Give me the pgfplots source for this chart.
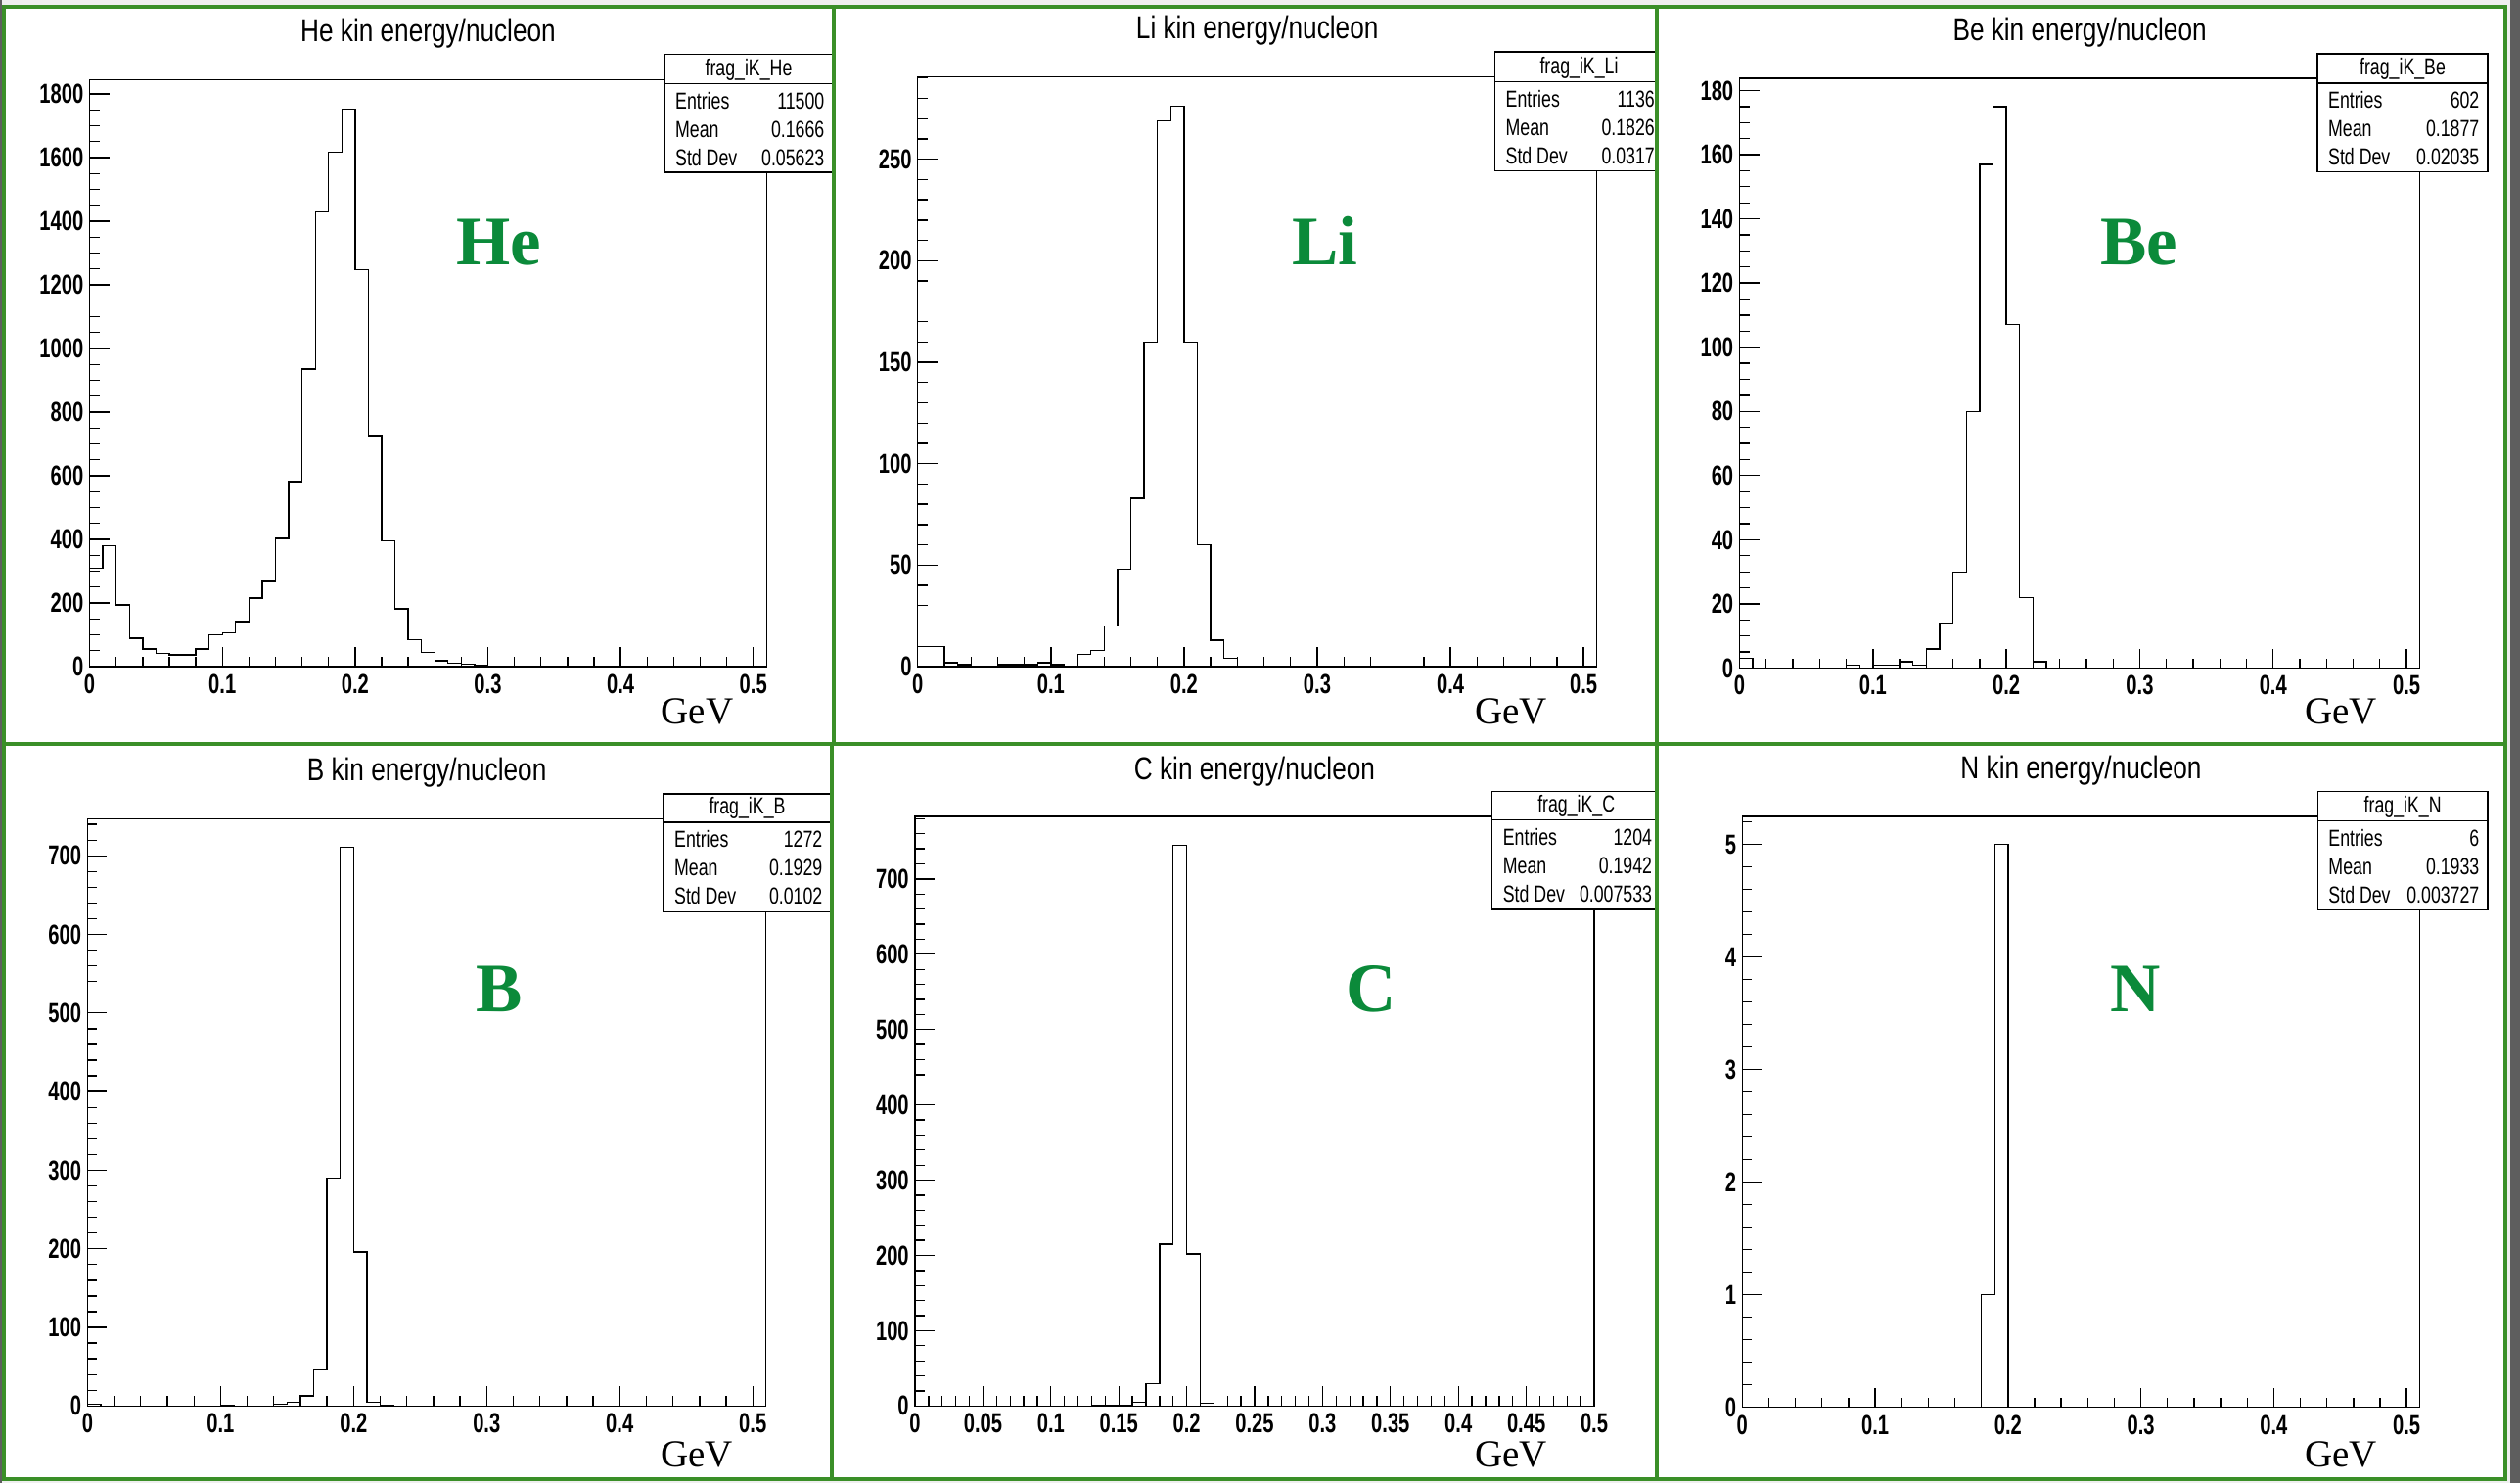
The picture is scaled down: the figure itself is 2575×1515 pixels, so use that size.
\documentclass[border=0pt]{standalone}
\usepackage{pgfplots}
\pgfplotsset{compat=1.18}
\usepackage{fontspec}
\newfontfamily\tickfont[FakeStretch=0.72]{Liberation Sans Bold}
\newfontfamily\titlefont[FakeStretch=0.81]{Liberation Sans}
\newfontfamily\statfont[FakeStretch=0.75]{Liberation Sans}
\newfontfamily\unitfont{Liberation Serif}
\newfontfamily\elemfont{Liberation Serif Bold}
\definecolor{frameGreen}{HTML}{3A8F28}
\definecolor{elemGreen}{HTML}{0B8A3A}
\definecolor{pageGrey}{HTML}{EFEFEF}
\definecolor{edgeGrey}{HTML}{5E5E5E}

\pgfplotsset{
  roothist/.style={
    scale only axis, anchor=south west,
    xmin=0, ymin=0,
    axis line style={line width=0.4bp},
    tick align=inside, xtick pos=bottom, ytick pos=left,
    major tick length=6bp, minor tick length=3bp,
    every tick/.append style={black, line width=0.4bp},
    scaled ticks=false,
    ticklabel style={font=\tickfont\fontsize{8.4bp}{9bp}\selectfont, inner sep=0pt},
    xticklabel style={yshift=-2.1bp, /pgf/number format/fixed,
      /pgf/number format/precision=2, /pgf/number format/assume math mode=true},
    yticklabel style={xshift=-1.7bp, /pgf/number format/fixed,
      /pgf/number format/1000 sep={}, /pgf/number format/assume math mode=true},
  },
  hist/.style={const plot mark left, black, line width=0.4bp, mark=none},
}

\tikzset{
  ttl/.style={font=\titlefont\fontsize{9.7bp}{11bp}\selectfont, anchor=base, inner sep=0pt},
  stat/.style={font=\statfont\fontsize{7.1bp}{8bp}\selectfont, inner sep=0pt},
  unit/.style={font=\unitfont\fontsize{11.7bp}{13bp}\selectfont, anchor=base west, inner sep=0pt},
  elem/.style={font=\elemfont\fontsize{21.3bp}{24bp}\selectfont, text=elemGreen, anchor=base, inner sep=0pt},
}

% stats box: left, right, top, header line, bottom, name, entries, mean, std dev
\newcommand\statbox[9]{%
  \draw[line width=0.4bp, fill=white] (#1,#3) rectangle (#2,#5);
  \draw[line width=0.4bp] (#1,#4) -- (#2,#4);
  \node[stat, anchor=base] at ({(#1+#2)/2},{#4-8.2}) {#6};
  \node[stat, anchor=base west] at ({#1+10.5},{#4+25.7}) {Entries};
  \node[stat, anchor=base east] at ({#2-8},{#4+25.7}) {#7};
  \node[stat, anchor=base west] at ({#1+10.5},{#4+54.8}) {Mean};
  \node[stat, anchor=base east] at ({#2-8},{#4+54.8}) {#8};
  \node[stat, anchor=base west] at ({#1+10.5},{#4+83.9}) {Std Dev};
  \node[stat, anchor=base east] at ({#2-8},{#4+83.9}) {#9};
}

\begin{document}
\begin{tikzpicture}
\begin{scope}[x=0.3bp, y=-0.3bp]
  \path[use as bounding box] (0,0) rectangle (2575,1515);
  \fill[pageGrey] (0,0) rectangle (2575,1515);
  \fill[white] (4,7) rectangle (2560,1511);
  \fill[edgeGrey] (0,0) rectangle (2,1515);
  \fill[edgeGrey] (2565,0) rectangle (2575,1515);
  % lower-left corners of the six frames
  \coordinate (A1) at (91.6,681);
  \coordinate (A2) at (937.8,681);
  \coordinate (A3) at (1777.5,682.5);
  \coordinate (A4) at (89.4,1436.3);
  \coordinate (A5) at (935,1436.3);
  \coordinate (A6) at (1780.3,1437.8);
\end{scope}

% He
\begin{axis}[roothist, at={(A1)}, width=207.51bp, height=179.88bp,
  xmax=0.51, ymax=1845,
  xtick={0,0.1,0.2,0.3,0.4,0.5}, minor xtick={0,0.02,...,0.5},
  ytick={0,200,...,1800}, minor ytick={0,50,...,1800}]
\addplot[hist] coordinates {
  (0,0) (0,310) (0.01,380) (0.02,194) (0.03,89) (0.04,55) (0.05,42)
  (0.06,37) (0.07,37) (0.08,55) (0.09,101) (0.10,107) (0.11,142)
  (0.12,215) (0.13,268) (0.14,403) (0.15,582) (0.16,935) (0.17,1429)
  (0.18,1617) (0.19,1752) (0.20,1248) (0.21,726) (0.22,395) (0.23,182)
  (0.24,85) (0.25,45) (0.26,19) (0.27,10) (0.28,7) (0.29,3) (0.30,2)
  (0.31,2) (0.32,1) (0.33,0) (0.36,2) (0.37,0)};
\end{axis}

% Li
\begin{axis}[roothist, at={(A2)}, width=208.17bp, height=180.75bp,
  xmax=0.51, ymax=290.6,
  xtick={0,0.1,0.2,0.3,0.4,0.5}, minor xtick={0,0.02,...,0.5},
  ytick={0,50,...,250}, minor ytick={0,10,...,290}]
\addplot[hist] coordinates {
  (0,0) (0,10) (0.01,10) (0.02,2) (0.03,1) (0.04,0) (0.06,1) (0.07,1)
  (0.08,1) (0.09,2) (0.10,1) (0.11,0) (0.12,6) (0.13,8) (0.14,20)
  (0.15,48) (0.16,83) (0.17,160) (0.18,269) (0.19,276) (0.20,160)
  (0.21,60) (0.22,13) (0.23,4) (0.24,0)};
\end{axis}

% Be
\begin{axis}[roothist, at={(A3)}, width=208.56bp, height=180.75bp,
  xmax=0.51, ymax=183.8,
  xtick={0,0.1,0.2,0.3,0.4,0.5}, minor xtick={0,0.02,...,0.5},
  ytick={0,20,...,180}, minor ytick={0,5,...,180}]
\addplot[hist] coordinates {
  (0,0) (0,3) (0.01,0) (0.08,1) (0.09,0) (0.10,1) (0.11,1) (0.12,2)
  (0.13,1) (0.14,6) (0.15,14) (0.16,30) (0.17,80) (0.18,157) (0.19,175)
  (0.20,107) (0.21,22) (0.22,2) (0.23,0)};
\end{axis}

% B
\begin{axis}[roothist, at={(A4)}, width=208.02bp, height=179.85bp,
  xmax=0.51, ymax=746.6,
  xtick={0,0.1,0.2,0.3,0.4,0.5}, minor xtick={0,0.02,...,0.5},
  ytick={0,100,...,700}, minor ytick={0,20,...,740}]
\addplot[hist] coordinates {
  (0,0) (0,2) (0.01,0) (0.10,1) (0.11,0) (0.14,2) (0.15,5) (0.16,13)
  (0.17,46) (0.18,290) (0.19,711) (0.20,196) (0.21,5) (0.22,1) (0.23,0)};
\end{axis}

% C
\begin{axis}[roothist, at={(A5)}, width=208.2bp, height=180.72bp,
  xmax=0.5, ymax=783.2,
  xtick={0,0.05,...,0.5}, minor xtick={0,0.01,...,0.5},
  ytick={0,100,...,700}, minor ytick={0,20,...,780}]
\addplot[hist] coordinates {
  (0.13,0) (0.13,1) (0.14,1) (0.15,1) (0.16,5) (0.17,30) (0.18,215)
  (0.19,745) (0.20,202) (0.21,4) (0.22,0)};
\end{axis}

% N
\begin{axis}[roothist, at={(A6)}, width=207.72bp, height=181.17bp,
  xmax=0.51, ymax=5.25,
  xtick={0,0.1,0.2,0.3,0.4,0.5}, minor xtick={0,0.02,...,0.5},
  ytick={0,1,...,5}, minor ytick={0,0.2,...,5.2}]
\addplot[hist] coordinates {(0.18,0) (0.18,1) (0.19,5) (0.20,0)};
\end{axis}

\begin{scope}[x=0.3bp, y=-0.3bp]
  \begin{scope}
    \clip (4,7) rectangle (851,760);
    \node[ttl] at (437.5,42.7) {He kin energy/nucleon};
    \statbox{679}{851}{55.7}{85.8}{176}{frag\_iK\_He}{11500}{0.1666}{0.05623}
    \node[elem] at (510,270) {He};
    \node[unit] at (675,739) {GeV};
  \end{scope}
  \begin{scope}
    \clip (851,7) rectangle (1693,760);
    \node[ttl] at (1284.7,39.7) {Li kin energy/nucleon};
    \statbox{1527.5}{1699.5}{53}{83.4}{174.5}{frag\_iK\_Li}{1136}{0.1826}{0.0317}
    \node[elem] at (1353.6,270) {Li};
    \node[unit] at (1506.6,739) {GeV};
  \end{scope}
  \begin{scope}
    \clip (1693,7) rectangle (2560,760);
    \node[ttl] at (2125.1,41.7) {Be kin energy/nucleon};
    \statbox{2368}{2542}{55}{85}{175.5}{frag\_iK\_Be}{602}{0.1877}{0.02035}
    \node[elem] at (2185.5,270) {Be};
    \node[unit] at (2354.8,739) {GeV};
  \end{scope}
  \begin{scope}
    \clip (4,760) rectangle (851,1511);
    \node[ttl] at (436.1,797.8) {B kin energy/nucleon};
    \statbox{678}{849}{811}{840}{931.5}{frag\_iK\_B}{1272}{0.1929}{0.0102}
    \node[elem] at (510,1033) {B};
    \node[unit] at (674.7,1498.8) {GeV};
  \end{scope}
  \begin{scope}
    \clip (851,760) rectangle (1693,1511);
    \node[ttl] at (1282,796) {C kin energy/nucleon};
    \statbox{1524.7}{1696.7}{808.5}{837.8}{929}{frag\_iK\_C}{1204}{0.1942}{0.007533}
    \node[elem] at (1401.6,1033) {C};
    \node[unit] at (1506.6,1498.8) {GeV};
  \end{scope}
  \begin{scope}
    \clip (1693,760) rectangle (2560,1511);
    \node[ttl] at (2126.5,795.4) {N kin energy/nucleon};
    \statbox{2368.3}{2542}{808.5}{838.8}{929.5}{frag\_iK\_N}{6}{0.1933}{0.003727}
    \node[elem] at (2182,1033) {N};
    \node[unit] at (2354.8,1498.8) {GeV};
  \end{scope}
  % green frames round the six panels
  \begin{scope}[frameGreen, line width=1.2bp]
    \draw (4,7) rectangle (2560,1511);
    \draw (4,760) -- (2560,760);
    \draw (852,7) -- (852,760);
    \draw (850,760) -- (850,1511);
    \draw (1693,7) -- (1693,1511);
  \end{scope}
\end{scope}
\end{tikzpicture}
\end{document}
